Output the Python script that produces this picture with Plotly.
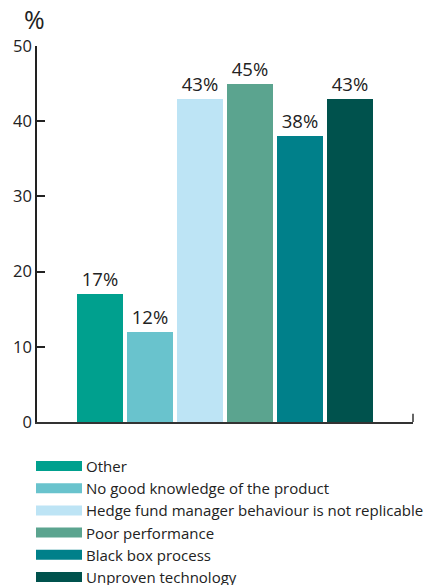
import plotly.graph_objects as go

categories = ["Other", "No good knowledge of the product",
              "Hedge fund manager behaviour is not replicable",
              "Poor performance", "Black box process", "Unproven technology"]
values = [17, 12, 43, 45, 38, 43]
colors = ["#00A08E", "#69C3CD", "#BDE4F5", "#5BA48F", "#00808A", "#00524D"]
y_ticks = [0, 10, 20, 30, 40, 50]

FONT = "Open Sans"
xs = list(range(len(categories)))

fig = go.Figure()
fig.add_trace(go.Bar(
    x=xs, y=values, marker=dict(color=colors, line=dict(width=0)),
    width=0.92,
    text=[f"{v}%" for v in values], textposition="outside",
    textfont=dict(family=FONT, size=18.5, color="#222"),
    cliponaxis=False, showlegend=False,
))

fig.update_layout(
    width=428, height=585,
    margin=dict(l=37, r=15, t=46, b=163),
    plot_bgcolor="white", paper_bgcolor="white",
    font=dict(family=FONT, size=14, color="#222"),
    bargap=0,
    xaxis=dict(range=[-1.26, 6.26], showticklabels=False, ticks="",
               showgrid=False, zeroline=False, showline=True,
               linecolor="#333", linewidth=1.5),
    yaxis=dict(range=[0, 50], tickvals=y_ticks, ticks="inside", ticklen=8,
               tickcolor="#222", tickwidth=1.5, showgrid=False, zeroline=False,
               showline=True, linecolor="#222", linewidth=1.5,
               tickfont=dict(family=FONT, size=16.5, color="#222")),
)

# right-end tick on x axis
fig.add_shape(type="line", xref="paper", yref="y", x0=1, x1=1, y0=0, y1=1.1,
              line=dict(color="#333", width=1.5))

fig.add_annotation(text="%", xref="paper", yref="paper", x=(34 - 37) / 376, y=1.0,
                   yshift=8, xanchor="center", yanchor="bottom", showarrow=False,
                   font=dict(family=FONT, size=25, color="#222"))

# legend
row0 = 466
step = 22.2
for i, (c, col) in enumerate(zip(categories, colors)):
    yc = row0 + i * step
    y_paper = 1 - (yc - 46) / (585 - 46 - 163)
    fig.add_shape(type="rect", xref="paper", yref="paper",
                  x0=(36 - 37) / 376, x1=(82 - 37) / 376,
                  y0=y_paper - 5 / 376, y1=y_paper + 5 / 376,
                  fillcolor=col, line=dict(width=0))
    fig.add_annotation(text=c, xref="paper", yref="paper",
                       x=(84 - 37) / 376, y=y_paper, xanchor="left",
                       yanchor="middle", showarrow=False,
                       font=dict(family=FONT, size=15, color="#222"))

fig.write_html("out.html")
